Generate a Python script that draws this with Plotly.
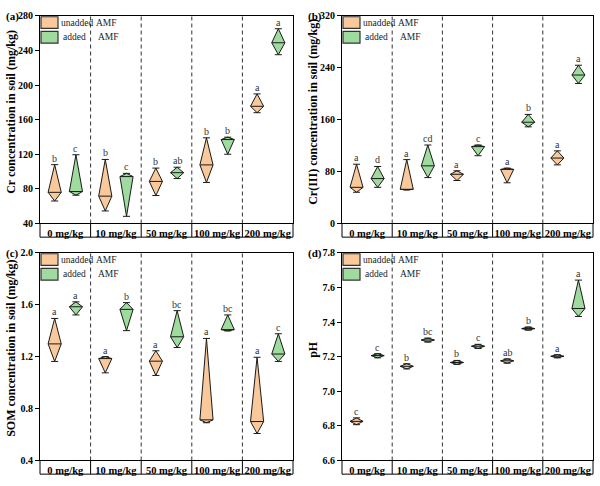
import plotly.graph_objects as go

categories = ["0 mg/kg", "10 mg/kg", "50 mg/kg", "100 mg/kg", "200 mg/kg"]

# (a) Cr
cr_un_min = [66, 54.5, 72.3, 87.4, 168]
cr_un_med = [76, 71.6, 88.6, 107.7, 175.4]
cr_un_max = [108, 114, 104, 139, 189.7]
cr_ad_min = [72.7, 48.3, 91.9, 120, 235]
cr_ad_med = [76.9, 94.2, 98.7, 137, 248.8]
cr_ad_max = [119.4, 97.9, 105, 139.7, 265]
cr_un_let = ["b", "b", "b", "b", "a"]
cr_ad_let = ["c", "c", "ab", "b", "a"]

# (b) Cr(III)
cr3_un_min = [48.1, 51.7, 66.2, 62.7, 90.3]
cr3_un_med = [55.7, 52.7, 75.8, 83.3, 100.8]
cr3_un_max = [91.3, 98.4, 81.2, 85.3, 111.9]
cr3_ad_min = [55.7, 70.7, 104.4, 148.9, 215.7]
cr3_ad_med = [69.2, 88.8, 118.4, 156, 228.7]
cr3_ad_max = [87.8, 120.9, 120.9, 168, 243.8]
cr3_un_let = ["a", "a", "a", "a", "a"]
cr3_ad_let = ["d", "cd", "c", "b", "a"]

# (c) SOM
som_un_min = [1.163, 1.075, 1.055, 0.691, 0.608]
som_un_med = [1.298, 1.185, 1.165, 0.713, 0.700]
som_un_max = [1.494, 1.200, 1.245, 1.340, 1.195]
som_ad_min = [1.521, 1.400, 1.270, 1.398, 1.163]
som_ad_med = [1.584, 1.564, 1.353, 1.408, 1.220]
som_ad_max = [1.622, 1.616, 1.554, 1.521, 1.376]
som_un_let = ["a", "a", "a", "a", "a"]
som_ad_let = ["a", "b", "bc", "bc", "c"]

# (d) pH
ph_un_min = [6.807, 7.129, 7.155, 7.162, 7.193]
ph_un_med = [6.826, 7.144, 7.166, 7.176, 7.202]
ph_un_max = [6.846, 7.159, 7.178, 7.187, 7.211]
ph_ad_min = [7.193, 7.284, 7.247, 7.353, 7.432]
ph_ad_med = [7.206, 7.296, 7.260, 7.362, 7.478]
ph_ad_max = [7.217, 7.307, 7.271, 7.371, 7.642]
ph_un_let = ["c", "b", "b", "ab", "a"]
ph_ad_let = ["c", "bc", "c", "b", "a"]

y_titles = ["Cr concentration in soil (mg/kg)", "Cr(III) concentration in soil (mg/kg)",
            "SOM concentration in soil (mg/kg)", "pH"]
panel_tags = ["(a)", "(b)", "(c)", "(d)"]
y_ranges = [[40, 280], [0, 320], [0.4, 2.0], [6.6, 7.8]]
y_ticks = [[40, 80, 120, 160, 200, 240, 280], [0, 80, 160, 240, 320],
           [0.4, 0.8, 1.2, 1.6, 2.0], [6.6, 6.8, 7.0, 7.2, 7.4, 7.6, 7.8]]
y_ticktext = [None, None, ["0.4", "0.8", "1.2", "1.6", "2.0"],
              ["6.6", "6.8", "7.0", "7.2", "7.4", "7.6", "7.8"]]

panels = [
    (cr_un_min, cr_un_med, cr_un_max, cr_ad_min, cr_ad_med, cr_ad_max, cr_un_let, cr_ad_let),
    (cr3_un_min, cr3_un_med, cr3_un_max, cr3_ad_min, cr3_ad_med, cr3_ad_max, cr3_un_let, cr3_ad_let),
    (som_un_min, som_un_med, som_un_max, som_ad_min, som_ad_med, som_ad_max, som_un_let, som_ad_let),
    (ph_un_min, ph_un_med, ph_un_max, ph_ad_min, ph_ad_med, ph_ad_max, ph_un_let, ph_ad_let),
]

W, H = 600, 486
ORANGE = "#F9C89B"
GREEN = "#9FDA9F"
EDGE = "#1a1a1a"
FONT = "'Liberation Serif', 'Times New Roman', Times, serif"

# pixel boxes of plot areas: (left, right, top, bottom)
boxes = [(40, 293, 10, 223), (342, 593, 10, 223), (40, 293, 253, 466), (342, 593, 253, 466)]

fig = go.Figure()
shapes = []
annotations = []

OFF = 0.21
HW = 0.13
CW = 0.07

def diamond_xy(xs, mins, meds, maxs):
    px, py = [], []
    for c, lo, md, hi in zip(xs, mins, meds, maxs):
        px += [c, c - HW, c, c + HW, c, None]
        py += [lo, md, hi, md, lo, None]
    return px, py

def lines_xy(xs, mins, meds, maxs):
    px, py = [], []
    for c, lo, md, hi in zip(xs, mins, meds, maxs):
        px += [c - HW, c + HW, None, c - CW, c + CW, None, c - CW, c + CW, None]
        py += [md, md, None, lo, lo, None, hi, hi, None]
    return px, py

for i, (box, data) in enumerate(zip(boxes, panels)):
    l, r, t, b = box
    sfx = "" if i == 0 else str(i + 1)
    xa, ya = "x" + sfx, "y" + sfx
    un_min, un_med, un_max, ad_min, ad_med, ad_max, un_let, ad_let = data
    xc = list(range(len(categories)))
    xu = [c - OFF for c in xc]
    xd = [c + OFF for c in xc]
    for xs, mn, md, mx, col, lets in ((xu, un_min, un_med, un_max, ORANGE, un_let),
                                        (xd, ad_min, ad_med, ad_max, GREEN, ad_let)):
        px, py = diamond_xy(xs, mn, md, mx)
        fig.add_trace(go.Scatter(x=px, y=py, mode="lines", fill="toself", fillcolor=col,
                                 line=dict(color=EDGE, width=1), xaxis=xa, yaxis=ya,
                                 showlegend=False, hoverinfo="skip"))
        lx, ly = lines_xy(xs, mn, md, mx)
        fig.add_trace(go.Scatter(x=lx, y=ly, mode="lines", line=dict(color=EDGE, width=1),
                                 xaxis=xa, yaxis=ya, showlegend=False, hoverinfo="skip"))
        for c, hi, s in zip(xs, mx, lets):
            annotations.append(dict(x=c, y=hi, xref=xa, yref=ya, text=s, showarrow=False,
                                    yanchor="bottom", yshift=-1,
                                    font=dict(family=FONT, size=10, color="#333")))

    xdom = [l / W, r / W]
    ydom = [1 - b / H, 1 - t / H]
    fig.update_layout(**{
        "xaxis" + sfx: dict(domain=xdom, anchor=ya, range=[-0.5, 4.5], tickvals=xc,
                            ticktext=categories, showgrid=False, zeroline=False,
                            showline=True, linecolor="black", linewidth=1, mirror=True,
                            ticks="", tickangle=0,
                            tickfont=dict(family=FONT, size=10.5, color="black",
                                          weight="bold")),
        "yaxis" + sfx: dict(domain=ydom, anchor=xa, range=y_ranges[i], tickvals=y_ticks[i],
                            ticktext=y_ticktext[i], showgrid=False, zeroline=False,
                            showline=True, linecolor="black", linewidth=1, mirror=True,
                            ticks="outside", ticklen=4, tickcolor="black",
                            tickfont=dict(family=FONT, size=10, color="black", weight="bold")),
    })
    xd_ref = xa + " domain"
    yd_ref = ya + " domain"
    band = 14 / (b - t)
    # category band
    shapes.append(dict(type="rect", xref=xd_ref, yref=yd_ref, x0=0, x1=1, y0=-band, y1=0,
                       line=dict(color="black", width=1)))
    for k in range(1, 5):
        fx = k / 5
        shapes.append(dict(type="line", xref=xd_ref, yref=yd_ref, x0=fx, x1=fx, y0=0, y1=1,
                           line=dict(color="#333", width=1, dash="4px,3px")))
        shapes.append(dict(type="line", xref=xd_ref, yref=yd_ref, x0=fx, x1=fx, y0=-band, y1=0,
                           line=dict(color="black", width=1)))
    # legend swatches
    for j, (col, lab) in enumerate(((ORANGE, "unadded"), (GREEN, "added"))):
        y0 = t + 1 + j * 15
        shapes.append(dict(type="rect", xref="paper", yref="paper",
                           x0=(l + 1) / W, x1=(l + 18) / W, y0=1 - (y0 + 12) / H, y1=1 - y0 / H,
                           fillcolor=col, line=dict(color="#333", width=1.2)))
        annotations.append(dict(x=(l + 19 + (0 if j == 0 else 2)) / W, y=1 - (y0 + 6) / H,
                                xref="paper", yref="paper", text=lab, showarrow=False,
                                xanchor="left", yanchor="middle",
                                font=dict(family=FONT, size=9.5, color="#222")))
        annotations.append(dict(x=(l + 54 if j == 0 else l + 56) / W, y=1 - (y0 + 6) / H,
                                xref="paper", yref="paper", text="AMF", showarrow=False,
                                xanchor="left", yanchor="middle",
                                font=dict(family=FONT, size=9.5, color="#222")))
    # panel tag
    annotations.append(dict(x=(l - 36) / W, y=1 - (t + 1) / H, xref="paper", yref="paper",
                            text=panel_tags[i], showarrow=False, xanchor="left", yanchor="middle",
                            font=dict(family=FONT, size=11, color="black", weight="bold")))
    # y title
    annotations.append(dict(x=(l - 29) / W, y=1 - ((t + b) / 2 - 8) / H, xref="paper",
                            yref="paper", text=y_titles[i], showarrow=False, textangle=-90,
                            xanchor="center", yanchor="middle",
                            font=dict(family=FONT, size=12, color="black", weight="bold")))

fig.update_layout(width=W, height=H, margin=dict(l=0, r=0, t=0, b=0),
                  plot_bgcolor="white", paper_bgcolor="white",
                  shapes=shapes, annotations=annotations, showlegend=False)
fig.write_html("out.html", config={"displayModeBar": False},
               post_script="document.body.style.margin='0';")
